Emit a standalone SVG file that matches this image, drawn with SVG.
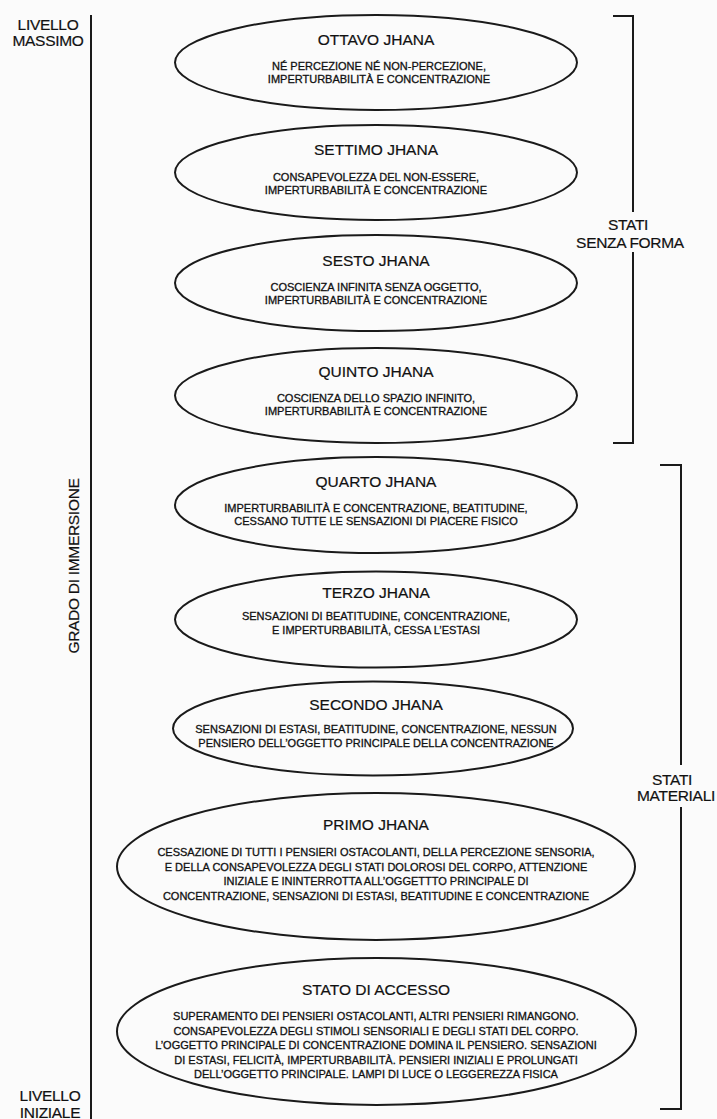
<svg xmlns="http://www.w3.org/2000/svg" width="717" height="1119" viewBox="0 0 717 1119">
<style>
.bg{fill:#fbfbfb}
.el{fill:none;stroke:#1a1a1a;stroke-width:2}
.ln{fill:none;stroke:#1a1a1a;stroke-width:2}
.t{font-family:"Liberation Sans",Arial,sans-serif;font-size:15.5px;fill:#111;text-anchor:middle;stroke:#111;stroke-width:0.2}
.s{font-family:"Liberation Sans",Arial,sans-serif;font-size:11px;fill:#111;text-anchor:middle;stroke:#111;stroke-width:0.3}
.lab{font-family:"Liberation Sans",Arial,sans-serif;font-size:15.5px;fill:#111;text-anchor:middle;letter-spacing:-0.3px;stroke:#111;stroke-width:0.2}
</style>
<rect class="bg" x="0" y="0" width="717" height="1119"/>
<g id="connectors">
<line class="ln" x1="91" y1="15" x2="91" y2="1119"/>
<path class="ln" d="M613,16 H633 V212 M633,252 V443 H613"/>
<path class="ln" d="M660,465 H681 V765 M681,807 V1109 H660"/>
</g>
<g id="axis-labels">
<text class="lab" x="48" y="30">LIVELLO</text>
<text class="lab" x="48" y="46">MASSIMO</text>
<text class="lab" x="50" y="1101">LIVELLO</text>
<text class="lab" x="50" y="1118">INIZIALE</text>
<text class="lab" transform="translate(79,566) rotate(-90)">GRADO DI IMMERSIONE</text>
</g>
<g id="group-senza-forma">
<text class="lab" x="628" y="230">STATI</text>
<text class="lab" x="630" y="248">SENZA FORMA</text>
</g>
<g id="group-materiali">
<text class="lab" x="672" y="785">STATI</text>
<text class="lab" x="676" y="801">MATERIALI</text>
</g>
<g id="ottavo">
<ellipse class="el" cx="376" cy="62.5" rx="201" ry="47.5"/>
<text class="t" x="376" y="45">OTTAVO JHANA</text>
<text class="s" x="379" y="70">NÉ PERCEZIONE NÉ NON-PERCEZIONE,</text>
<text class="s" x="379" y="82.5">IMPERTURBABILITÀ E CONCENTRAZIONE</text>
</g>
<g id="settimo">
<ellipse class="el" cx="376" cy="172.5" rx="201" ry="47.5"/>
<text class="t" x="376" y="155">SETTIMO JHANA</text>
<text class="s" x="376" y="181">CONSAPEVOLEZZA DEL NON-ESSERE,</text>
<text class="s" x="376" y="193.5">IMPERTURBABILITÀ E CONCENTRAZIONE</text>
</g>
<g id="sesto">
<ellipse class="el" cx="376" cy="283" rx="201" ry="48"/>
<text class="t" x="376" y="266">SESTO JHANA</text>
<text class="s" x="376" y="291">COSCIENZA INFINITA SENZA OGGETTO,</text>
<text class="s" x="376" y="303.5">IMPERTURBABILITÀ E CONCENTRAZIONE</text>
</g>
<g id="quinto">
<ellipse class="el" cx="376" cy="395.5" rx="201" ry="47.5"/>
<text class="t" x="376" y="377">QUINTO JHANA</text>
<text class="s" x="376" y="402">COSCIENZA DELLO SPAZIO INFINITO,</text>
<text class="s" x="376" y="415">IMPERTURBABILITÀ E CONCENTRAZIONE</text>
</g>
<g id="quarto">
<ellipse class="el" cx="376" cy="505" rx="201" ry="48"/>
<text class="t" x="376" y="487">QUARTO JHANA</text>
<text class="s" x="376" y="512">IMPERTURBABILITÀ E CONCENTRAZIONE, BEATITUDINE,</text>
<text class="s" x="376" y="525">CESSANO TUTTE LE SENSAZIONI DI PIACERE FISICO</text>
</g>
<g id="terzo">
<ellipse class="el" cx="376" cy="619.5" rx="201" ry="48"/>
<text class="t" x="376" y="598">TERZO JHANA</text>
<text class="s" x="376" y="620">SENSAZIONI DI BEATITUDINE, CONCENTRAZIONE,</text>
<text class="s" x="376" y="634">E IMPERTURBABILITÀ, CESSA L’ESTASI</text>
</g>
<g id="secondo">
<ellipse class="el" cx="373" cy="728.5" rx="200" ry="47"/>
<text class="t" x="376" y="710">SECONDO JHANA</text>
<text class="s" x="376" y="733">SENSAZIONI DI ESTASI, BEATITUDINE, CONCENTRAZIONE, NESSUN</text>
<text class="s" x="376" y="747">PENSIERO DELL’OGGETTO PRINCIPALE DELLA CONCENTRAZIONE</text>
</g>
<g id="primo">
<ellipse class="el" cx="376" cy="866.5" rx="259" ry="73.5"/>
<text class="t" x="376" y="830">PRIMO JHANA</text>
<text class="s" x="376" y="856">CESSAZIONE DI TUTTI I PENSIERI OSTACOLANTI, DELLA PERCEZIONE SENSORIA,</text>
<text class="s" x="376" y="870.5">E DELLA CONSAPEVOLEZZA DEGLI STATI DOLOROSI DEL CORPO, ATTENZIONE</text>
<text class="s" x="376" y="885">INIZIALE E ININTERROTTA ALL’OGGETTTO PRINCIPALE DI</text>
<text class="s" x="376" y="899.5">CONCENTRAZIONE, SENSAZIONI DI ESTASI, BEATITUDINE E CONCENTRAZIONE</text>
</g>
<g id="accesso">
<ellipse class="el" cx="376.5" cy="1031.5" rx="259.5" ry="73.5"/>
<text class="t" x="376" y="995">STATO DI ACCESSO</text>
<text class="s" x="376" y="1020">SUPERAMENTO DEI PENSIERI OSTACOLANTI, ALTRI PENSIERI RIMANGONO.</text>
<text class="s" x="376" y="1034.5">CONSAPEVOLEZZA DEGLI STIMOLI SENSORIALI E DEGLI STATI DEL CORPO.</text>
<text class="s" x="376" y="1049">L’OGGETTO PRINCIPALE DI CONCENTRAZIONE DOMINA IL PENSIERO. SENSAZIONI</text>
<text class="s" x="376" y="1063.5">DI ESTASI, FELICITÀ, IMPERTURBABILITÀ. PENSIERI INIZIALI E PROLUNGATI</text>
<text class="s" x="376" y="1078">DELL’OGGETTO PRINCIPALE. LAMPI DI LUCE O LEGGEREZZA FISICA</text>
</g>
</svg>
